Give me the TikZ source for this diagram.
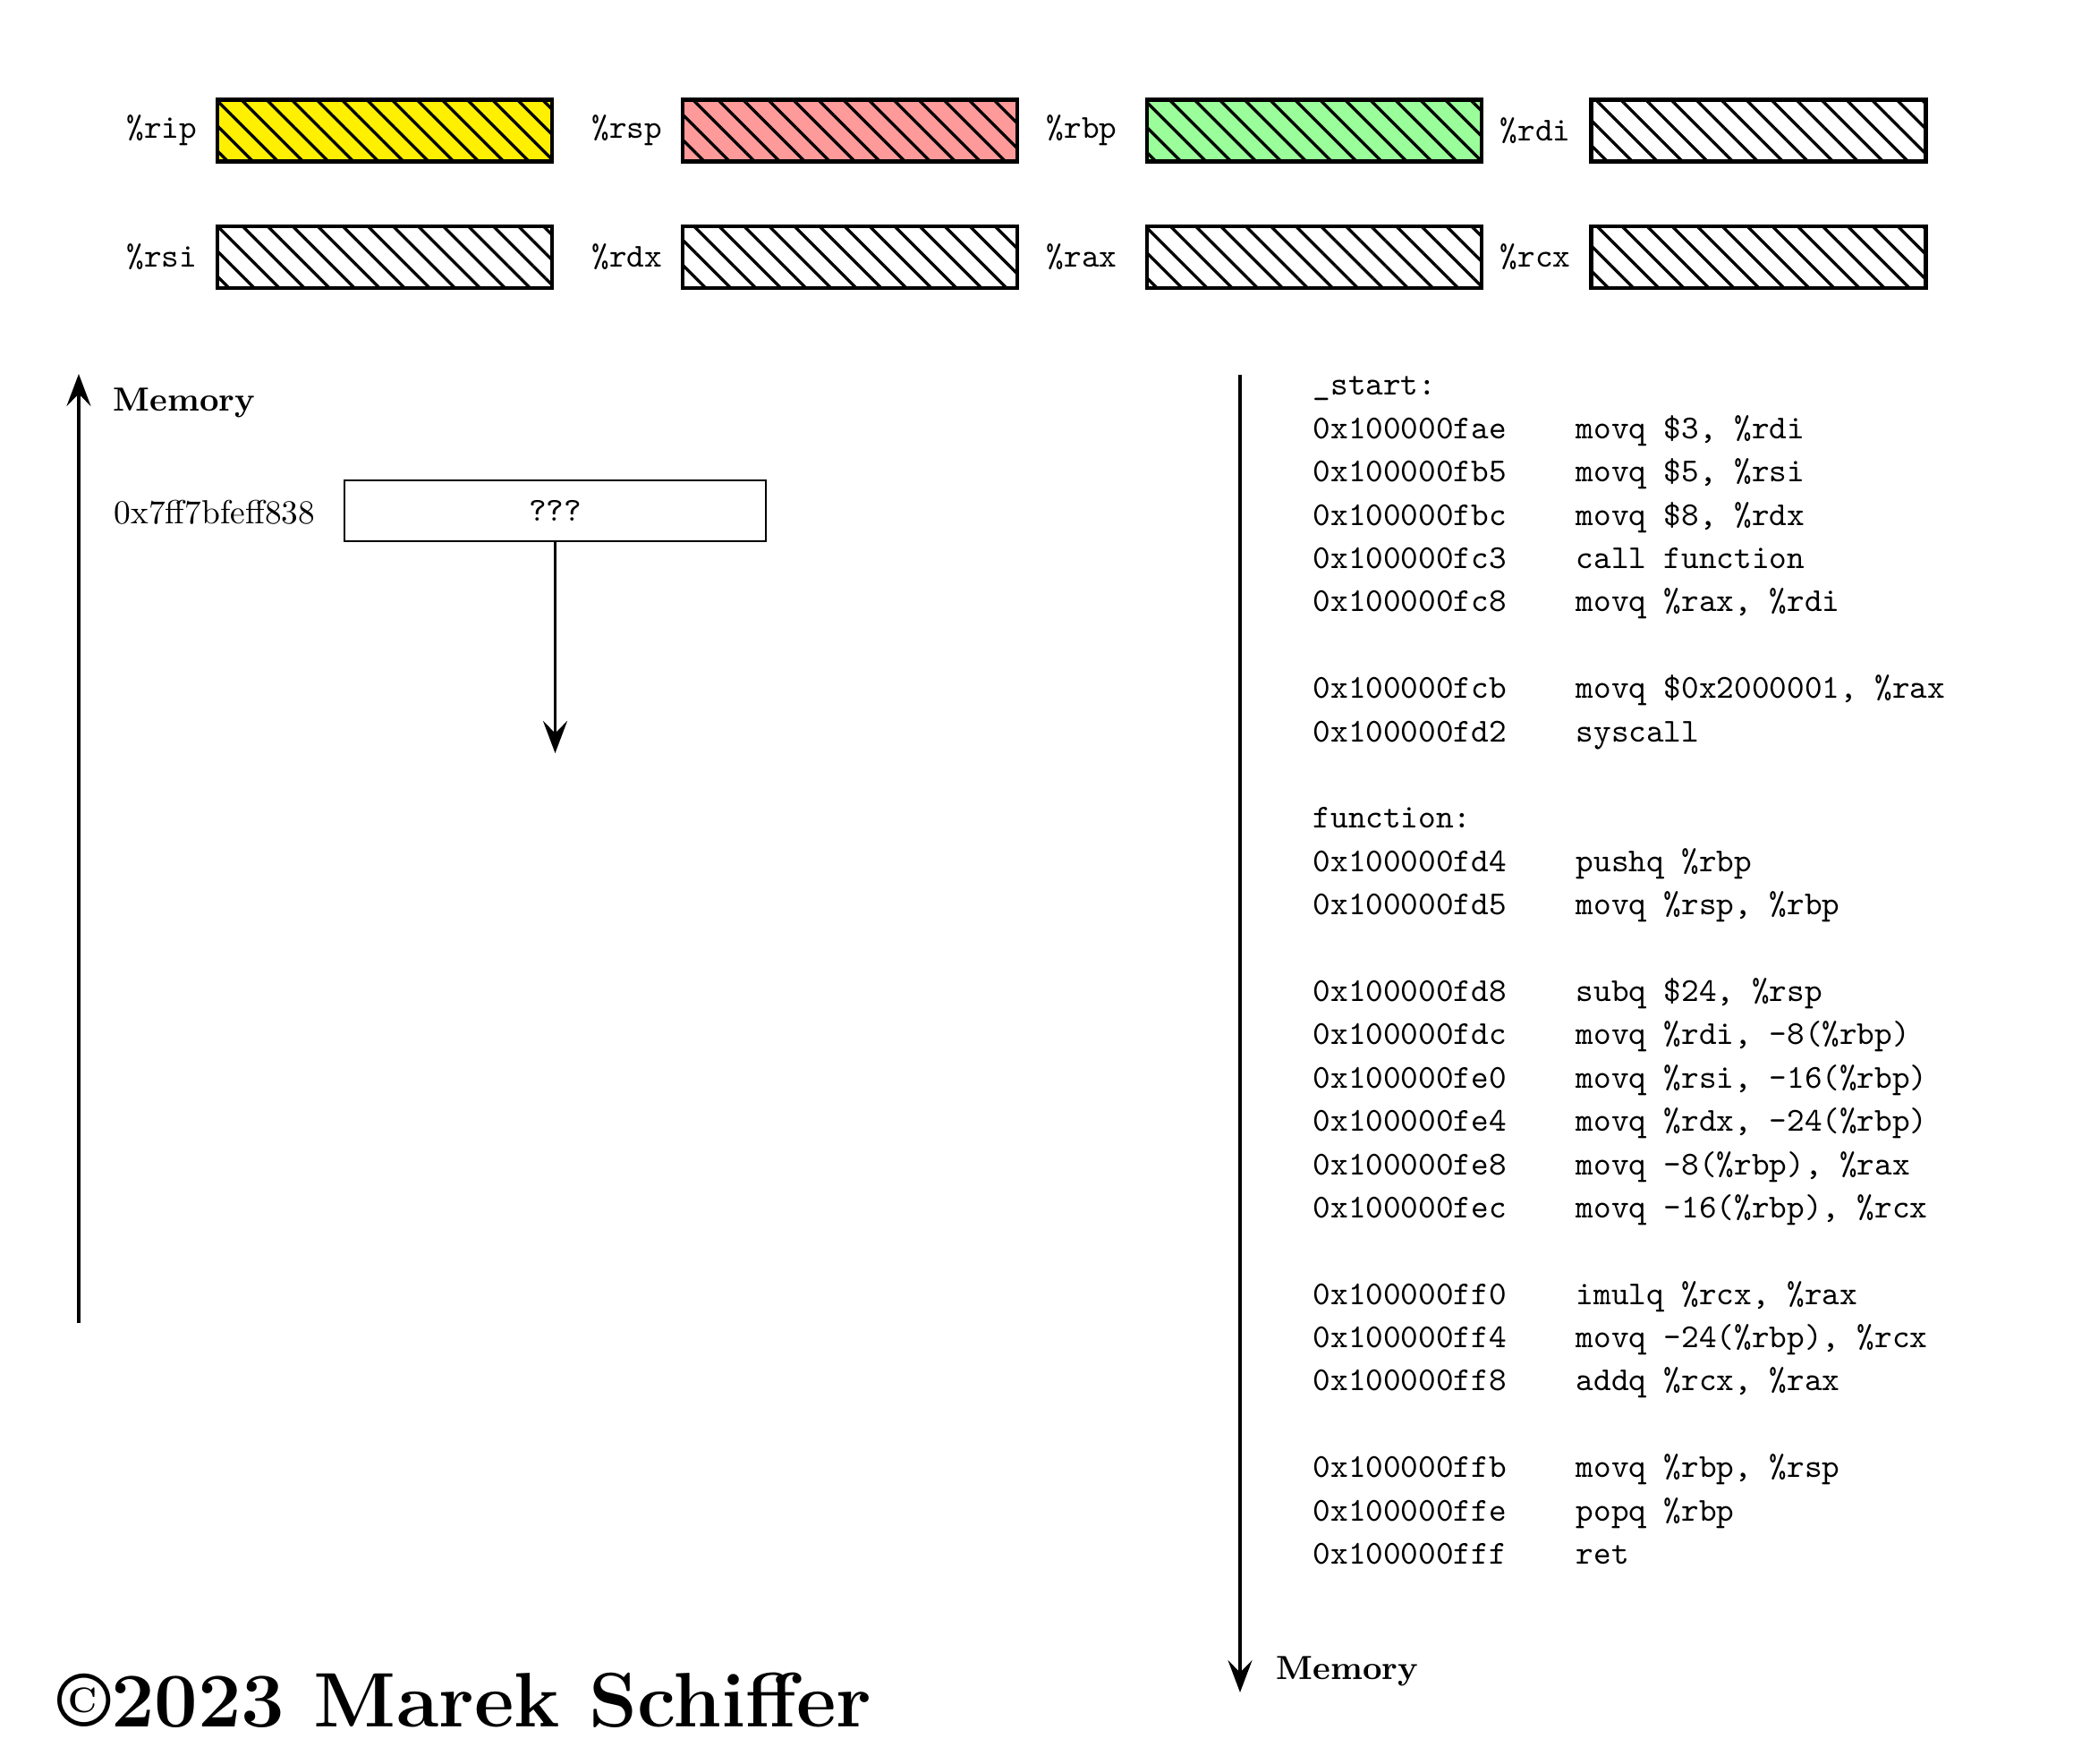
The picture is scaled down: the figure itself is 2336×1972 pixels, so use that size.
\documentclass[tikz,border=0pt]{standalone}
\usepackage{fontspec}
\usetikzlibrary{arrows.meta,patterns.meta}
\definecolor{regyellow}{RGB}{255,240,0}
\definecolor{regred}{RGB}{255,154,154}
\definecolor{reggreen}{RGB}{154,255,154}
\tikzset{
  regbox/.style={draw, line width=1.2pt, minimum width=100pt, minimum height=18.4pt, inner sep=0pt,
    pattern={Lines[angle=-45,distance=5.3pt,line width=0.9pt]}, pattern color=black},
  regfill/.style={preaction={fill=#1}},
  reglabel/.style={anchor=east, inner sep=0pt, font=\ttfamily},
  membox/.style={draw, line width=0.7pt, minimum width=126pt, minimum height=18.2pt, inner sep=0pt, font=\ttfamily},
  memlabel/.style={anchor=west, inner sep=0pt, font=\bfseries},
  addr/.style={anchor=base west, inner sep=0pt, font=\ttfamily},
  axis/.style={line width=1pt, -{Stealth[length=9.6pt,width=7.2pt,inset=3.6pt]}},
}
\begin{document}
\begin{tikzpicture}[x=0.2674pt,y=-0.2674pt]
\useasboundingbox (0,0) rectangle (2336,1972);
% registers
\node[regbox, regfill=regyellow] (rip) at (429.8,146) {};
\node[regbox, regfill=regred]    (rsp) at (949.8,146) {};
\node[regbox, regfill=reggreen]  (rbp) at (1468.8,146) {};
\node[regbox, regfill=white]     (rdi) at (1965.5,146) {};
\node[regbox, regfill=white]     (rsi) at (429.8,287.5) {};
\node[regbox, regfill=white]     (rdx) at (949.8,287.5) {};
\node[regbox, regfill=white]     (rax) at (1468.8,287.5) {};
\node[regbox, regfill=white]     (rcx) at (1965.5,287.5) {};
\node[reglabel] (lrip) at (221,146) {\%rip};
\node[reglabel] (lrsp) at (741,146) {\%rsp};
\node[reglabel] (lrbp) at (1249,146) {\%rbp};
\node[reglabel] (lrdi) at (1756,146) {\%rdi};
\node[reglabel] (lrsi) at (221,287.5) {\%rsi};
\node[reglabel] (lrdx) at (741,287.5) {\%rdx};
\node[reglabel] (lrax) at (1249,287.5) {\%rax};
\node[reglabel] (lrcx) at (1756,287.5) {\%rcx};
% memory (left)
\coordinate (memlo) at (88,1479);
\coordinate (memhi) at (88,418);
\draw[axis] (memlo) -- (memhi);
\node[memlabel] (memtxt) at (126,450) {Memory};
\node[membox] (cell) at (620.5,571) {???};
\node[anchor=west, inner sep=0pt] (celladdr) at (127,573) {0x7ff7bfeff838};
\coordinate (growend) at (620.5,842);
\draw[axis] (cell.south) -- (growend);
% code (right)
\coordinate (codetop) at (1386,419);
\coordinate (codebot) at (1386,1892);
\draw[axis] (codetop) -- (codebot);
\node[memlabel] (codemem) at (1426,1868) {Memory};
\foreach \i/\a/\c in {
  0/{\_start:}/{},
  1/{0x100000fae}/{movq \$3, \%rdi},
  2/{0x100000fb5}/{movq \$5, \%rsi},
  3/{0x100000fbc}/{movq \$8, \%rdx},
  4/{0x100000fc3}/{call function},
  5/{0x100000fc8}/{movq \%rax, \%rdi},
  7/{0x100000fcb}/{movq \$0x2000001, \%rax},
  8/{0x100000fd2}/{syscall},
  10/{function:}/{},
  11/{0x100000fd4}/{pushq \%rbp},
  12/{0x100000fd5}/{movq \%rsp, \%rbp},
  14/{0x100000fd8}/{subq \$24, \%rsp},
  15/{0x100000fdc}/{movq \%rdi, -8(\%rbp)},
  16/{0x100000fe0}/{movq \%rsi, -16(\%rbp)},
  17/{0x100000fe4}/{movq \%rdx, -24(\%rbp)},
  18/{0x100000fe8}/{movq -8(\%rbp), \%rax},
  19/{0x100000fec}/{movq -16(\%rbp), \%rcx},
  21/{0x100000ff0}/{imulq \%rcx, \%rax},
  22/{0x100000ff4}/{movq -24(\%rbp), \%rcx},
  23/{0x100000ff8}/{addq \%rcx, \%rax},
  25/{0x100000ffb}/{movq \%rbp, \%rsp},
  26/{0x100000ffe}/{popq \%rbp},
  27/{0x100000fff}/{ret}}{
  \node[addr] (a\i) at (1467,442+48.39*\i) {\a};
  \node[addr] (c\i) at (1761,442+48.39*\i) {\c};
}
% copyright
\node[anchor=base west, inner sep=0pt, font=\fontsize{23.1}{28}\selectfont\bfseries] (copy) at (64,1930) {\textcopyright2023 Marek Schiffer};
\end{tikzpicture}
\end{document}
